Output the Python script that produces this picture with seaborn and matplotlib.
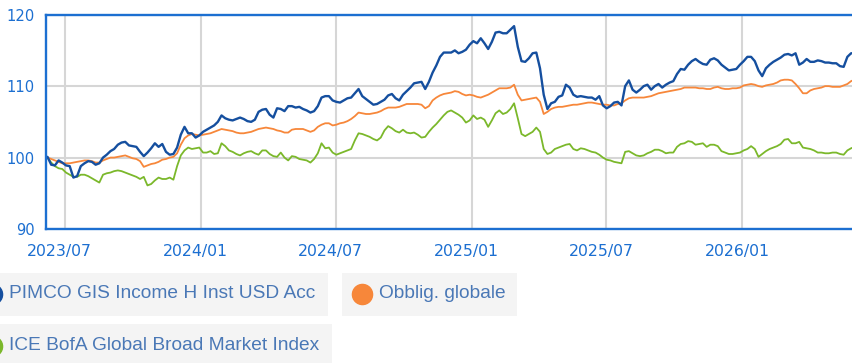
import numpy as np
import pandas as pd
import matplotlib
matplotlib.use("Agg")
import matplotlib.pyplot as plt
import matplotlib.transforms as mtransforms
from matplotlib.lines import Line2D
from matplotlib.patches import Rectangle
import seaborn as sns

sns.set_theme(style="white")
plt.rcParams["font.family"] = ["DejaVu Sans"]

# Observation dates (every 5 days)
dates = pd.date_range("2023-06-08", periods=219, freq="5D")

pimco = [
    100.1, 99.0, 98.9, 99.6, 99.3, 98.9, 98.8, 97.2, 97.4, 98.8,
    99.2, 99.5, 99.4, 99.0, 99.2, 100.0, 100.4, 100.9, 101.2, 101.8,
    102.1, 102.2, 101.7, 101.6, 101.5, 100.8, 100.2, 100.7, 101.3, 102.0,
    101.5, 101.9, 100.8, 100.4, 100.5, 101.4, 103.2, 104.3, 103.4, 103.4,
    102.8, 103.1, 103.6, 103.9, 104.2, 104.5, 105.0, 105.9, 105.5, 105.3,
    105.2, 105.4, 105.6, 105.4, 105.1, 105.0, 105.3, 106.4, 106.7, 106.8,
    106.0, 105.6, 106.9, 106.8, 106.5, 107.2, 107.2, 107.0, 107.1, 106.8,
    106.6, 106.3, 106.5, 107.2, 108.4, 108.6, 108.6, 108.0, 107.8, 107.7,
    108.0, 108.3, 108.4, 109.0, 109.6, 108.6, 108.2, 107.8, 107.4, 107.5,
    107.8, 108.1, 108.7, 108.9, 108.3, 108.0, 108.8, 109.3, 109.8, 110.4,
    110.5, 110.6, 109.6, 110.6, 111.9, 112.9, 114.1, 114.7, 114.7, 114.7,
    115.0, 114.6, 114.8, 115.1, 115.8, 116.3, 116.0, 116.7, 116.0, 115.2,
    116.2, 117.5, 117.6, 117.4, 117.4, 117.9, 118.4, 115.5, 113.5, 113.4,
    113.9, 114.6, 114.7, 112.5, 108.8, 106.8, 107.6, 107.8, 108.5, 108.7,
    110.2, 109.8, 108.8, 108.5, 108.6, 108.5, 108.4, 108.4, 108.1, 108.6,
    107.3, 106.9, 107.2, 107.7, 107.8, 107.3, 110.0, 110.8, 109.5, 109.1,
    109.5, 110.0, 110.2, 109.5, 110.0, 110.3, 109.8, 110.2, 110.5, 110.7,
    111.7, 112.4, 112.3, 113.0, 113.5, 113.8, 113.4, 113.1, 113.0, 113.7,
    113.9, 113.6, 113.0, 112.6, 112.2, 112.3, 112.4, 113.0, 113.5, 114.1,
    114.1, 113.5, 112.2, 111.4, 112.5, 113.0, 113.4, 113.7, 114.0, 114.4,
    114.5, 114.3, 114.6, 113.0, 113.3, 113.8, 113.4, 113.4, 113.6, 113.5,
    113.3, 113.3, 113.2, 113.2, 112.8, 112.7, 114.1, 114.6, 114.6,
]

obblig = [
    100.0, 99.8, 99.6, 99.4, 99.2, 99.2, 99.2, 99.3, 99.4, 99.5,
    99.6, 99.6, 99.5, 99.3, 99.3, 99.6, 99.8, 100.0, 100.0, 100.1,
    100.2, 100.3, 100.1, 99.9, 99.8, 99.5, 98.7, 98.9, 99.1, 99.2,
    99.4, 99.7, 99.8, 100.0, 100.1, 100.6, 101.8, 102.7, 103.1, 103.3,
    103.2, 103.1, 103.2, 103.3, 103.4, 103.6, 103.8, 104.0, 103.9, 103.8,
    103.7, 103.5, 103.4, 103.4, 103.5, 103.6, 103.8, 104.0, 104.1, 104.2,
    104.1, 104.0, 103.8, 103.7, 103.5, 103.5, 103.9, 104.0, 104.0, 104.0,
    103.8, 103.6, 103.8, 104.3, 104.6, 104.8, 104.8, 104.5, 104.6, 104.8,
    104.9, 105.1, 105.4, 105.8, 106.3, 106.2, 106.1, 106.1, 106.2, 106.3,
    106.5, 106.8, 107.0, 107.0, 107.0, 107.1, 107.3, 107.5, 107.5, 107.5,
    107.5, 107.4, 106.9, 107.2, 108.0, 108.4, 108.7, 108.9, 109.0, 109.1,
    109.3, 109.2, 108.9, 108.7, 108.8, 108.7, 108.5, 108.4, 108.6, 108.8,
    109.1, 109.4, 109.7, 109.7, 109.7, 109.8, 110.2, 108.8, 108.0, 108.1,
    108.2, 108.3, 108.4, 107.8, 106.1, 106.4, 106.8, 107.0, 107.1, 107.1,
    107.2, 107.3, 107.4, 107.4, 107.5, 107.6, 107.7, 107.7, 107.6, 107.5,
    107.4, 107.4, 107.3, 107.3, 107.5, 107.6, 108.0, 108.3, 108.4, 108.4,
    108.4, 108.4, 108.5, 108.6, 108.8, 109.0, 109.1, 109.2, 109.3, 109.4,
    109.5, 109.6, 109.8, 109.8, 109.8, 109.8, 109.7, 109.7, 109.6, 109.6,
    109.8, 109.9, 109.7, 109.6, 109.6, 109.7, 109.7, 109.8, 110.1, 110.2,
    110.3, 110.2, 110.0, 109.9, 110.1, 110.2, 110.3, 110.5, 110.8, 110.9,
    110.9, 110.8, 110.3, 109.7, 109.0, 109.0, 109.4, 109.6, 109.7, 109.8,
    110.0, 110.0, 109.9, 109.9, 109.9, 110.1, 110.3, 110.7, 110.9,
]

ice = [
    100.0, 99.3, 98.8, 98.5, 98.4, 97.9, 97.6, 97.3, 97.3, 97.6,
    97.6, 97.4, 97.1, 96.8, 96.5, 97.6, 97.8, 97.9, 98.1, 98.2,
    98.1, 97.9, 97.7, 97.5, 97.3, 97.0, 97.3, 96.1, 96.3, 96.8,
    97.2, 97.0, 97.0, 97.2, 96.9, 98.8, 100.3, 101.0, 101.4, 101.2,
    101.3, 101.4, 100.7, 100.7, 100.9, 100.5, 100.6, 102.0, 101.6, 101.0,
    100.8, 100.5, 100.3, 100.6, 100.8, 100.9, 100.6, 100.4, 101.0, 101.0,
    100.5, 100.2, 100.1, 100.7, 100.0, 99.6, 100.2, 100.1, 99.8, 99.7,
    99.6, 99.3, 99.8, 100.6, 102.0, 101.3, 101.4, 100.7, 100.4, 100.6,
    100.8, 101.0, 101.2, 102.4, 103.4, 103.3, 103.1, 102.9, 102.6, 102.4,
    102.8, 103.8, 104.4, 104.1, 103.7, 103.5, 103.9, 103.5, 103.4, 103.5,
    103.2, 102.8, 102.9, 103.6, 104.2, 104.7, 105.3, 105.9, 106.4, 106.6,
    106.3, 106.0, 105.6, 104.9, 105.2, 105.9, 105.4, 105.6, 105.3, 104.3,
    105.2, 106.2, 106.6, 106.1, 106.3, 106.8, 107.6, 105.5, 103.3, 103.0,
    103.3, 103.6, 104.2, 103.6, 101.2, 100.5, 100.7, 101.2, 101.4, 101.6,
    101.8, 101.9, 101.2, 101.0, 101.3, 101.2, 101.0, 100.8, 100.7, 100.4,
    100.0, 99.7, 99.6, 99.4, 99.3, 99.2, 100.8, 100.9, 100.6, 100.3,
    100.2, 100.3, 100.6, 100.8, 101.1, 101.1, 100.9, 100.6, 100.7, 100.7,
    101.5, 101.9, 102.0, 102.3, 102.2, 101.8, 101.9, 102.0, 101.5, 101.8,
    101.8, 101.6, 100.9, 100.7, 100.5, 100.5, 100.6, 100.7, 101.0, 101.2,
    101.6, 101.2, 100.1, 100.5, 100.9, 101.2, 101.4, 101.6, 101.9, 102.5,
    102.6, 102.0, 102.0, 102.2, 101.4, 101.3, 101.2, 101.0, 100.7, 100.7,
    100.6, 100.6, 100.7, 100.7, 100.5, 100.4, 101.0, 101.3, 101.5,
]

series_names = [
    "PIMCO GIS Income H Inst USD Acc",
    "Obblig. globale",
    "ICE BofA Global Broad Market Index",
]
series_values = [pimco, obblig, ice]
series_colors = ["#154f9f", "#f7873a", "#7bb82b"]
line_widths = [1.7, 1.3, 1.3]

tick_dates = ["2023-07-01", "2024-01-01", "2024-07-01", "2025-01-01", "2025-07-01", "2026-01-01"]
tick_labels = ["2023/07", "2024/01", "2024/07", "2025/01", "2025/07", "2026/01"]
y_ticks = [90, 100, 110, 120]

df = pd.DataFrame({
    "date": np.tile(dates, len(series_names)),
    "value": np.concatenate(series_values),
    "series": np.repeat(series_names, len(dates)),
})

W, H = 853, 363
fig = plt.figure(figsize=(W / 100, H / 100), dpi=100)
ax = fig.add_axes([46 / W, 1 - 229 / H, (857 - 46) / W, (229 - 14.7) / H])

# green first, blue last so the fund line sits on top
for name, color, lw in reversed(list(zip(series_names, series_colors, line_widths))):
    sns.lineplot(data=df[df["series"] == name], x="date", y="value",
                 color=color, linewidth=lw, ax=ax, legend=False)

axis_blue = "#1c6fd1"
ax.set_xlim(pd.Timestamp("2023-06-06"), pd.Timestamp("2026-06-05"))
ax.set_ylim(90, 120)
ax.set_yticks(y_ticks)
ax.set_yticklabels([str(v) for v in y_ticks])
ax.set_xticks(pd.to_datetime(tick_dates))
ax.set_xticklabels(tick_labels)
ax.set_xlabel("")
ax.set_ylabel("")
ax.grid(True, color="#d6d6d6", linewidth=1.5)
ax.set_axisbelow(True)
for side in ["left", "top", "right", "bottom"]:
    ax.spines[side].set_color(axis_blue)
    ax.spines[side].set_linewidth(1.7)
ax.tick_params(axis="x", length=0, pad=11, labelsize=11.3, labelcolor=axis_blue)
ax.tick_params(axis="y", length=0, pad=8, labelsize=10.6, labelcolor=axis_blue)
shift = mtransforms.ScaledTranslation(-5 / 100, 0, fig.dpi_scale_trans)
for lab in ax.get_xticklabels():
    lab.set_transform(lab.get_transform() + shift)


def fx(x):
    return x / W


def fy(y):
    return 1 - y / H


legend_bg = "#f4f4f4"
legend_text = "#4a78b6"
boxes = [(0, 272.7, 328, 315.7), (342, 272.7, 517, 315.7), (0, 324, 332, 366)]
for x0, y0, x1, y1 in boxes:
    fig.patches.append(Rectangle((fx(x0), fy(y1)), fx(x1) - fx(x0), (y1 - y0) / H,
                                 transform=fig.transFigure, facecolor=legend_bg,
                                 edgecolor="none", zorder=0))

entries = [
    (series_names[0], series_colors[0], -8.5, 9, 293.5),
    (series_names[1], series_colors[1], 361.7, 379, 293.5),
    (series_names[2], series_colors[2], -8.5, 9, 346),
]
for name, color, mx, tx, yy in entries:
    fig.add_artist(Line2D([fx(mx)], [fy(yy)], marker="o", markersize=14.5,
                          color=color, linestyle="none", transform=fig.transFigure))
    fig.text(fx(tx), fy(yy), name, ha="left", va="center", fontsize=13.8,
             color=legend_text, family=["Liberation Sans", "DejaVu Sans"])

fig.savefig("out.png", dpi=100)
